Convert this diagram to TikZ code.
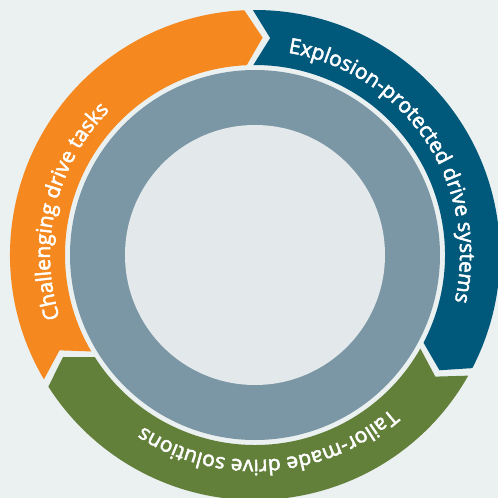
\documentclass[tikz,border=0pt]{standalone}
\usepackage{fontspec}
\setmainfont{Open Sans}
\newfontfamily\segfam{Open Sans}[FakeBold=2.5]
\usepackage{xcolor}
\usepackage{tikz}
\usetikzlibrary{decorations.text}

\definecolor{bgcol}{HTML}{EBF0F1}
\definecolor{hubcol}{HTML}{E3E8EB}
\definecolor{ringcol}{HTML}{7B97A6}
\definecolor{orangecol}{HTML}{F5891F}
\definecolor{bluecol}{HTML}{00587B}
\definecolor{greencol}{HTML}{62803A}

\newcommand{\segfont}{\segfam\fontsize{21}{21}\selectfont}

\begin{document}
\begin{tikzpicture}[
arclabel/.style={decorate,decoration={text along path,text align=center,text color=white,text={|\segfont|#1}}},
]
\useasboundingbox (-255pt,-243pt) rectangle (243pt,255pt);
\fill[bgcol] (-255pt,-243pt) rectangle (243pt,255pt);
% inner grey ring with light hub
\fill[ringcol] (0,0) circle[radius=185pt];
\fill[hubcol] (0,0) circle[radius=130pt];
% three chevron segments, clockwise
\foreach \a/\b/\col in {210.5/92.5/orangecol,90.5/-27.5/bluecol,-29.5/-147.5/greencol}
  \fill[\col] (\a:245pt) arc[start angle=\a,end angle=\b,radius=245pt]
    -- ({\b-4.5}:217.5pt) -- (\b:190pt)
    arc[start angle=\b,end angle=\a,radius=190pt]
    -- ({\a-4.5}:217.5pt) -- cycle;
% labels on the segments
\path[arclabel={Challenging drive tasks}] (221.5:205pt) arc[start angle=221.5,end angle=111.5,radius=205pt];
\path[arclabel={Explosion-protected drive systems}] (88.8:205pt) arc[start angle=88.8,end angle=-21.2,radius=205pt];
\path[arclabel={Tailor-made drive solutions}] (-30.8:205pt) arc[start angle=-30.8,end angle=-140.8,radius=205pt];
\end{tikzpicture}
\end{document}
